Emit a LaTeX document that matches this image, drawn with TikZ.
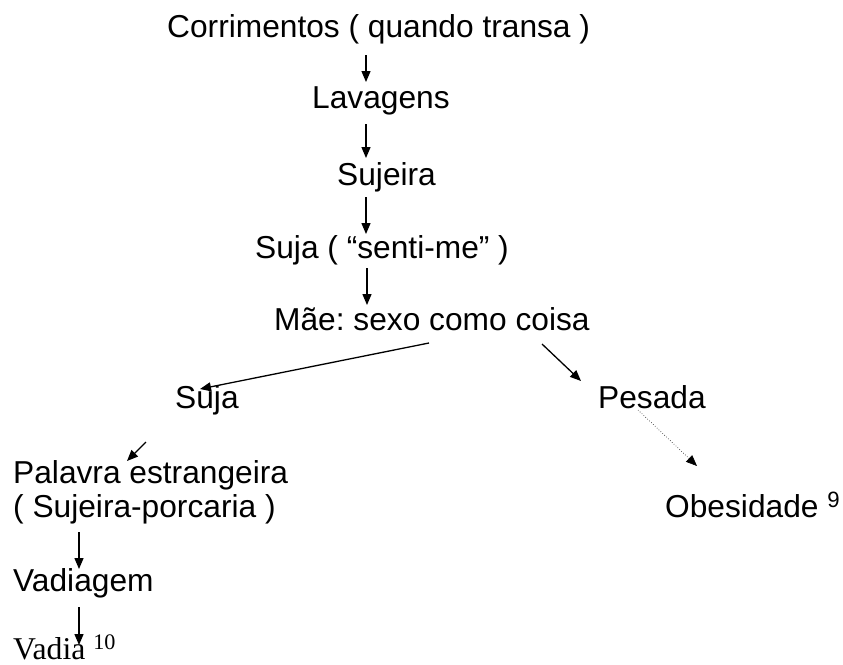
\documentclass[tikz,border=0pt]{standalone}
\usepackage{fontspec}
\setmainfont{Liberation Sans}
\newfontfamily\timesfont{Liberation Serif}
\usetikzlibrary{arrows.meta}
\frenchspacing
\tikzset{
    map-text/.style = {anchor=base west, inner sep=0pt, font=\fontsize{31.7}{36}\selectfont},
    map-arrow/.style = {-{Triangle[length=11pt, width=9pt]}, line width=1.3pt},
    map-dotted/.style = {-{Triangle[length=11pt, width=9pt]}, dotted, line width=0.6pt},
}

\begin{document}
\begin{tikzpicture}[x=1pt, y=-1pt]
\path[fill=white, use as bounding box] (0,0) rectangle (843,664);

\node [map-text] (corr) at (167,37) {Corrimentos ( quando transa )};
\node [map-text] (lav) at (312,108) {Lavagens};
\node [map-text] (suj) at (337,185) {Sujeira};
\node [map-text] (senti) at (255,258) {Suja ( “senti-me” )};
\node [map-text] (mae) at (274,330) {Mãe: sexo como coisa};
\node [map-text] (suja) at (175,408) {Suja};
\node [map-text] (pesada) at (598,408) {Pesada};
\node [map-text] (obes) at (665,517) {Obesidade \textsuperscript{9}};
\node [map-text] (palavra) at (13,483) {Palavra estrangeira};
\node [map-text] (porcaria) at (13,517) {( Sujeira-porcaria )};
\node [map-text] (vadiagem) at (13,591) {Vadiagem};
\node [map-text, font=\timesfont\fontsize{31.7}{36}\selectfont] (vadia) at (13,659) {Vadia \textsuperscript{10}};

% main chain
\draw [map-arrow] ([shift={(199,18)}]corr.base west) -- ([shift={(54,-26)}]lav.base west);
\draw [map-arrow] ([shift={(54,16)}]lav.base west) -- ([shift={(29,-27)}]suj.base west);
\draw [map-arrow] ([shift={(29,12)}]suj.base west) -- ([shift={(111,-24)}]senti.base west);
\draw [map-arrow] ([shift={(112,10)}]senti.base west) -- ([shift={(93,-25)}]mae.base west);

% branches
\draw [map-arrow] ([shift={(155,13)}]mae.base west) -- ([shift={(25,-19)}]suja.base west);
\draw [map-arrow] ([shift={(268,14)}]mae.base west) -- ([shift={(-17,-27)}]pesada.base west);
\draw [map-dotted] ([shift={(40,2)}]pesada.base west) -- ([shift={(32,-51)}]obes.base west);
\draw [map-arrow] ([shift={(-29,34)}]suja.base west) -- ([shift={(114,-22)}]palavra.base west);
\draw [map-arrow] ([shift={(66,15)}]porcaria.base west) -- ([shift={(66,-22)}]vadiagem.base west);
\draw [map-arrow] ([shift={(66,16)}]vadiagem.base west) -- ([shift={(66,-14)}]vadia.base west);
\end{tikzpicture}
\end{document}
